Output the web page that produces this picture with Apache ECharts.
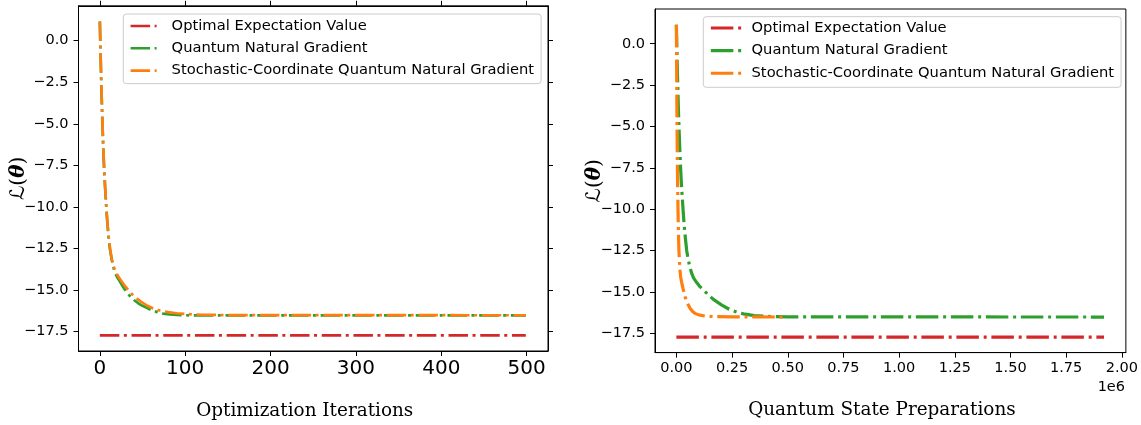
<!DOCTYPE html>
<html><head><meta charset="utf-8">
<script src="https://cdn.jsdelivr.net/npm/echarts@6/dist/echarts.min.js"></script>
<style>html,body{margin:0;padding:0;background:#fff}#c{width:1141px;height:425px}</style>
</head><body><div id="c"></div>
<script>
// ---------- data ----------
const seriesNames = ['Optimal Expectation Value', 'Quantum Natural Gradient', 'Stochastic-Coordinate Quantum Natural Gradient'];
const optimalValue = -17.73;

// Left panel: loss vs optimization iterations
const leftOptimalIter = [0, 499];
const leftQngIter = [0, 1, 2, 3, 4, 5, 6, 7, 8, 9, 10, 11, 12, 14, 16, 18, 20, 23, 27, 31, 35, 40, 45, 50, 55, 60, 67, 74, 82, 90, 100, 130, 499];
const leftQngLoss = [1.15, -1.2, -3.2, -5.0, -6.5, -7.7, -8.7, -9.6, -10.4, -11.1, -11.7, -12.2, -12.6, -13.2, -13.65, -14.0, -14.2, -14.45, -14.8, -15.1, -15.35, -15.6, -15.8, -15.95, -16.07, -16.2, -16.33, -16.42, -16.47, -16.5, -16.52, -16.53, -16.53];
const leftScIter = [0, 1, 2, 3, 4, 5, 6, 7, 8, 9, 10, 11, 12, 14, 16, 18, 20, 25, 30, 35, 41, 48, 55, 62, 70, 80, 90, 101, 120, 150, 499];
const leftScLoss = [1.15, -1.0, -3.0, -4.8, -6.3, -7.6, -8.6, -9.5, -10.3, -11.0, -11.6, -12.1, -12.5, -13.15, -13.55, -13.85, -14.05, -14.45, -14.8, -15.1, -15.42, -15.7, -15.93, -16.1, -16.23, -16.33, -16.4, -16.45, -16.49, -16.51, -16.52];

// Right panel: loss vs quantum state preparations
const rightOptimalPreps = [0, 1920000];
const rightQngPreps = [0, 3850, 7700, 11550, 15400, 19250, 23100, 26950, 30800, 34650, 38500, 42350, 46200, 53900, 61600, 69300, 77000, 92000, 107000, 130000, 166000, 204000, 237000, 270000, 301000, 350000, 400000, 500000, 1920000];
const rightQngLoss = [1.15, -1.3, -3.3, -5.0, -6.4, -7.6, -8.6, -9.4, -10.2, -10.9, -11.5, -12.0, -12.5, -13.1, -13.55, -13.9, -14.15, -14.45, -14.7, -15.0, -15.45, -15.8, -16.05, -16.22, -16.33, -16.43, -16.48, -16.51, -16.52];
const rightScPreps = [0, 960, 1920, 2880, 3840, 4800, 5760, 6720, 7680, 8640, 9600, 11500, 13400, 16300, 19200, 24000, 30000, 39000, 50000, 62000, 72000, 84000, 100000, 129000, 180000, 250000, 480000];
const rightScLoss = [1.15, -1.1, -3.1, -4.9, -6.4, -7.6, -8.6, -9.5, -10.3, -11.0, -11.6, -12.5, -13.1, -13.7, -14.1, -14.45, -14.8, -15.3, -15.7, -16.0, -16.17, -16.3, -16.39, -16.46, -16.5, -16.51, -16.52];

// Tick values
const yTicks = [0, -2.5, -5, -7.5, -10, -12.5, -15, -17.5];
const leftXTicks = [0, 100, 200, 300, 400, 500];
const rightXTicks = [0, 250000, 500000, 750000, 1000000, 1250000, 1500000, 1750000, 2000000];

// ---------- helpers ----------
const zip = (xs, ys) => xs.map((x, i) => [x, ys[i]]);
const colors = ['#d62728', '#2ca02c', '#ff7f0e'];
const leftDash = [19.5, 4.5, 3, 4.7];
const rightDash = [22.5, 4.8, 3, 4.7];
const fmtY = v => (v < 0 ? '\u2212' : '') + Math.abs(v).toFixed(1);

const tickStyle = { show: true, inside: false, length: 5, lineStyle: { color: '#000', width: 1 } };
const lineAxis = { show: true, onZero: false, lineStyle: { color: '#000', width: 1 } };

function yAxisFor(gridIndex, position, withLabels, nameGap) {
  return {
    type: 'value', gridIndex, position, min: -18.67, max: 2.1,
    axisLine: lineAxis,
    axisTick: Object.assign({ customValues: yTicks }, tickStyle),
    axisLabel: withLabels ? { customValues: yTicks, formatter: fmtY, fontFamily: 'DejaVu Sans', fontSize: 14.5, color: '#000', margin: 10 } : { show: false },
    splitLine: { show: false },
    name: withLabels ? '{l|\u2112}{p|(}{t|\u03b8}{p|)}' : '',
    nameLocation: 'middle', nameGap: nameGap, nameRotate: 90, nameMoveOverlap: false,
    nameTextStyle: {
      color: '#000',
      rich: {
        l: { fontFamily: 'DejaVu Sans', fontSize: 20, color: '#000' },
        p: { fontFamily: 'DejaVu Serif', fontSize: 20, color: '#000' },
        t: { fontFamily: 'DejaVu Serif', fontStyle: 'italic', fontWeight: 'bold', fontSize: 20, color: '#000' }
      }
    }
  };
}

const legendBase = {
  orient: 'vertical', data: seriesNames,
  backgroundColor: 'rgba(255,255,255,0.8)', borderColor: '#cccccc', borderWidth: 1, borderRadius: 3,
  itemHeight: 4, itemStyle: { opacity: 0 },
  textStyle: { fontFamily: 'DejaVu Sans', fontSize: 14.7, color: '#000', lineHeight: 16 },
  selectedMode: false
};

const option = {
  animation: false,
  backgroundColor: '#fff',
  grid: [
    { left: 78.5, top: 5.8, width: 469.5, height: 347.5, show: true, borderColor: '#000', borderWidth: 1, backgroundColor: 'transparent' },
    { left: 655, top: 9, width: 471.4, height: 343.6, show: true, borderColor: '#000', borderWidth: 1, backgroundColor: 'transparent' }
  ],
  xAxis: [
    {
      type: 'value', gridIndex: 0, position: 'bottom', min: -25, max: 525,
      axisLine: lineAxis,
      axisTick: Object.assign({ customValues: leftXTicks }, tickStyle),
      axisLabel: { customValues: leftXTicks, fontFamily: 'DejaVu Sans', fontSize: 20, color: '#000', margin: 8 },
      splitLine: { show: false },
      name: 'Optimization Iterations', nameLocation: 'middle', nameGap: 51, nameMoveOverlap: false,
      nameTextStyle: { fontFamily: 'DejaVu Serif', fontSize: 18.4, color: '#000', padding: [0, 17, 0, 0] }
    },
    {
      type: 'value', gridIndex: 0, position: 'top', min: -25, max: 525,
      axisLine: lineAxis,
      axisTick: Object.assign({ customValues: leftXTicks }, tickStyle),
      axisLabel: { show: false }, splitLine: { show: false }
    },
    {
      type: 'value', gridIndex: 1, position: 'bottom', min: -96000, max: 2018000,
      axisLine: lineAxis,
      axisTick: Object.assign({ customValues: rightXTicks }, tickStyle),
      axisLabel: { customValues: rightXTicks, formatter: v => (v / 1e6).toFixed(2), fontFamily: 'DejaVu Sans', fontSize: 14.5, color: '#000', margin: 8 },
      splitLine: { show: false },
      name: 'Quantum State Preparations', nameLocation: 'middle', nameGap: 49, nameMoveOverlap: false,
      nameTextStyle: { fontFamily: 'DejaVu Serif', fontSize: 18.4, color: '#000', padding: [0, 17, 0, 0] }
    }
  ],
  yAxis: [
    yAxisFor(0, 'left', true, 49.5),
    yAxisFor(0, 'right', false, 0),
    yAxisFor(1, 'left', true, 50)
  ],
  legend: [
    Object.assign({}, legendBase, {
      left: 123.3, top: 14, padding: [4, 7, 5, 6], itemGap: 6.3, itemWidth: 26,
      lineStyle: { width: 2.6, type: leftDash },
      textStyle: Object.assign({}, legendBase.textStyle, { padding: [0, 0, 0, 10] })
    }),
    Object.assign({}, legendBase, {
      left: 703.3, top: 16.7, padding: [3.3, 7, 6, 6], itemGap: 6.65, itemWidth: 31,
      lineStyle: { width: 3.1, type: rightDash },
      textStyle: Object.assign({}, legendBase.textStyle, { padding: [0, 0, 0, 4.7] })
    })
  ],
  graphic: [
    { type: 'text', right: 16, top: 380, style: { text: '1e6', font: '14.5px "DejaVu Sans"', fill: '#000' } }
  ],
  series: [
    { name: seriesNames[0], type: 'line', xAxisIndex: 0, yAxisIndex: 0, data: zip(leftOptimalIter, leftOptimalIter.map(() => optimalValue)), showSymbol: false, symbol: 'none', lineStyle: { color: colors[0], width: 2.7, type: leftDash }, itemStyle: { color: colors[0] } },
    { name: seriesNames[1], type: 'line', xAxisIndex: 0, yAxisIndex: 0, data: zip(leftQngIter, leftQngLoss), showSymbol: false, symbol: 'none', lineStyle: { color: colors[1], width: 2.7, type: leftDash }, itemStyle: { color: colors[1] } },
    { name: seriesNames[2], type: 'line', xAxisIndex: 0, yAxisIndex: 0, data: zip(leftScIter, leftScLoss), showSymbol: false, symbol: 'none', lineStyle: { color: colors[2], width: 2.7, type: leftDash }, itemStyle: { color: colors[2] } },
    { name: seriesNames[0], type: 'line', xAxisIndex: 2, yAxisIndex: 2, data: zip(rightOptimalPreps, rightOptimalPreps.map(() => optimalValue)), showSymbol: false, symbol: 'none', lineStyle: { color: colors[0], width: 3.2, type: rightDash }, itemStyle: { color: colors[0] } },
    { name: seriesNames[1], type: 'line', xAxisIndex: 2, yAxisIndex: 2, data: zip(rightQngPreps, rightQngLoss), showSymbol: false, symbol: 'none', lineStyle: { color: colors[1], width: 3.2, type: rightDash }, itemStyle: { color: colors[1] } },
    { name: seriesNames[2], type: 'line', xAxisIndex: 2, yAxisIndex: 2, data: zip(rightScPreps, rightScLoss), showSymbol: false, symbol: 'none', lineStyle: { color: colors[2], width: 3.2, type: rightDash }, itemStyle: { color: colors[2] } }
  ]
};

const chart = echarts.init(document.getElementById('c'), null, { renderer: 'canvas' });
chart.setOption(option);
</script>
</body></html>
